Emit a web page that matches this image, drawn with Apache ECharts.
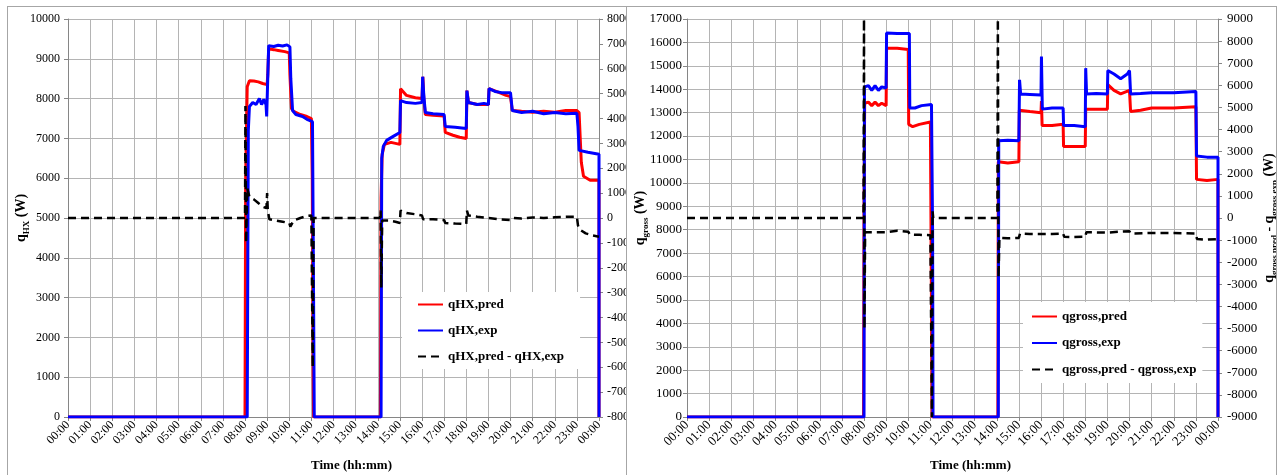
<!DOCTYPE html>
<html><head><meta charset="utf-8">
<script src="https://cdn.jsdelivr.net/npm/echarts@6/dist/echarts.min.js"></script>
<style>
html,body{margin:0;padding:0;background:#fff;width:1282px;height:475px;overflow:hidden;}
#c1{position:absolute;left:7px;top:6px;width:618px;height:480px;border:1px solid #a6a6a6;}
#c2{position:absolute;left:627px;top:6px;width:649px;height:480px;border:1px solid #a6a6a6;border-left:none;}
</style></head><body>
<div id="c1"></div><div id="c2"></div>
<script>
// ---- tick labels ----
const hourLabels = ['00:00','01:00','02:00','03:00','04:00','05:00','06:00','07:00','08:00','09:00','10:00','11:00','12:00',
  '13:00','14:00','15:00','16:00','17:00','18:00','19:00','20:00','21:00','22:00','23:00','00:00'];

// ---- left chart: qHX (W) ----  [hour, value]
const qhxPred = [[0,0],[8.0,0],[8.03,6000],[8.1,8300],[8.2,8450],[8.4,8440],[8.6,8420],[8.8,8380],[9.0,8350],[9.03,8600],[9.07,9250],
  [9.3,9230],[9.5,9210],[9.8,9180],[10.0,9150],[10.03,8600],[10.1,7750],[10.2,7680],[10.5,7600],[10.8,7550],[11.0,7500],[11.04,6000],
  [11.08,1000],[11.1,0],[14.12,0],[14.15,5500],[14.2,6600],[14.3,6850],[14.6,6900],[15.0,6850],[15.03,8250],[15.1,8200],[15.3,8080],
  [15.7,8020],[16.0,8000],[16.04,8550],[16.08,8000],[16.15,7600],[16.5,7580],[17.0,7560],[17.05,7150],[17.4,7080],[17.7,7030],[18.0,7000],
  [18.03,8200],[18.1,7900],[18.5,7850],[19.0,7850],[19.03,8250],[19.5,8150],[19.8,8080],[20.0,8050],[20.08,7700],[20.5,7680],[21,7660],
  [21.5,7680],[22,7660],[22.5,7700],[23.0,7700],[23.1,7650],[23.2,6400],[23.3,6050],[23.6,5950],[24,5950],[24,0]];
const qhxExp = [[0,0],[8.1,0],[8.15,7200],[8.2,7800],[8.35,7900],[8.5,7850],[8.65,8000],[8.75,7850],[8.85,7980],[8.95,7850],[8.98,7550],
  [9.02,7600],[9.07,9330],[9.3,9310],[9.5,9340],[9.7,9320],[9.9,9350],[10.03,9300],[10.07,8500],[10.15,7700],[10.3,7600],[10.6,7550],
  [10.8,7480],[11.05,7420],[11.1,3000],[11.13,0],[14.15,0],[14.18,6500],[14.25,6800],[14.4,6950],[14.7,7050],[15.0,7150],[15.03,7950],
  [15.3,7900],[15.7,7880],[16.0,7900],[16.03,8550],[16.08,8100],[16.15,7650],[16.5,7620],[17.0,7600],[17.05,7300],[17.5,7280],[18.0,7250],
  [18.03,8200],[18.1,7900],[18.5,7850],[18.8,7880],[19.0,7850],[19.03,8250],[19.3,8180],[19.6,8150],[20.0,8150],[20.02,8200],[20.08,7700],
  [20.5,7650],[21,7680],[21.5,7620],[22,7650],[22.5,7620],[23.0,7630],[23.05,7300],[23.1,6700],[23.5,6650],[24,6600],[24,0]];
const qhxDiff = [[0,0],[8.0,0],[8.02,4500],[8.05,-1000],[8.1,1200],[8.2,850],[8.4,750],[8.6,600],[8.8,450],[8.97,400],[9.0,1000],
  [9.03,300],[9.1,-50],[9.4,-100],[9.7,-150],[10.0,-200],[10.05,-350],[10.2,-100],[10.5,0],[10.8,80],[11.0,100],[11.06,-6000],[11.1,0],
  [14.1,0],[14.13,300],[14.16,-2800],[14.2,-100],[14.5,-100],[14.8,-150],[15.0,-200],[15.03,300],[15.3,200],[15.7,150],[16.0,100],
  [16.05,-50],[16.5,-50],[17.0,-80],[17.05,-200],[17.5,-220],[18.0,-240],[18.03,300],[18.1,100],[18.5,50],[19.0,0],[19.05,-30],
  [19.5,-50],[20.0,-80],[20.1,0],[20.5,-20],[21,20],[21.5,0],[22,30],[22.5,50],[23.0,50],[23.05,-300],[23.15,-480],[23.4,-620],
  [23.7,-700],[24,-750]];

// ---- right chart: qgross (W) ----
const qgPred = [[0,0],[7.98,0],[8.0,9000],[8.03,13400],[8.2,13450],[8.35,13300],[8.5,13450],[8.65,13300],[8.8,13400],[9.0,13300],
  [9.02,15750],[9.5,15750],[10.0,15700],[10.02,12500],[10.2,12400],[10.5,12500],[11.0,12600],[11.05,12600],[11.08,0],[14.05,0],
  [14.07,10900],[14.5,10850],[15.0,10900],[15.02,13100],[15.5,13050],[16.0,13000],[16.02,13500],[16.05,12450],[16.5,12450],[17.0,12500],
  [17.02,11550],[17.5,11550],[18.0,11550],[18.02,13150],[18.5,13150],[19.0,13150],[19.02,14200],[19.3,13950],[19.6,13800],[20.0,13950],
  [20.05,13050],[20.5,13100],[21.0,13200],[22.0,13200],[23.0,13250],[23.03,10150],[23.5,10100],[24,10150],[24,0]];
const qgExp = [[0,0],[8.0,0],[8.02,14100],[8.2,14150],[8.35,13950],[8.5,14150],[8.65,13950],[8.8,14100],[9.0,14050],[9.02,16400],
  [9.5,16380],[10.05,16380],[10.07,13200],[10.3,13200],[10.6,13300],[11.05,13350],[11.1,8000],[11.12,0],[14.07,0],[14.09,11800],
  [14.5,11820],[15.0,11800],[15.03,14400],[15.08,13800],[15.5,13780],[16.0,13750],[16.02,15400],[16.06,13150],[16.5,13200],[17.0,13200],
  [17.02,12450],[17.5,12450],[18.0,12400],[18.02,14900],[18.06,13800],[18.5,13820],[19.0,13800],[19.02,14800],[19.3,14650],[19.6,14450],
  [19.9,14650],[20.0,14800],[20.05,13800],[20.5,13820],[21.0,13850],[22.0,13850],[23.0,13900],[23.03,11150],[23.5,11100],[24,11100],[24,0]];
const qgDiff = [[0,0],[7.98,0],[8.0,9000],[8.02,-5000],[8.05,-650],[8.5,-650],[9.0,-650],[9.05,-600],[9.5,-580],[10.0,-620],[10.07,-750],
  [10.5,-760],[11.0,-780],[11.07,-9000],[11.1,300],[11.13,0],[14.03,0],[14.05,9000],[14.08,-2700],[14.12,-900],[14.5,-920],[15.0,-900],
  [15.05,-700],[15.5,-720],[16.0,-720],[16.05,-700],[16.5,-720],[17.0,-700],[17.05,-850],[17.5,-860],[18.0,-850],[18.05,-650],[18.5,-650],
  [19.0,-660],[19.05,-600],[19.5,-620],[20.0,-600],[20.05,-700],[21,-680],[22,-680],[23.0,-700],[23.05,-950],[23.5,-980],[24,-950]];

const leftNames = ['qHX,pred','qHX,exp','qHX,pred - qHX,exp'];
const rightNames = ['qgross,pred','qgross,exp','qgross,pred - qgross,exp'];

const F = '"Liberation Serif","Times New Roman",serif';
const GRID = '#b4b4b4', AX = '#868686';
const rich = {
  a:{fontSize:14,fontWeight:'bold',fontFamily:F,color:'#000',lineHeight:14,padding:[0,0,3,0],verticalAlign:'bottom'},
  b:{fontSize:9,fontWeight:'bold',fontFamily:F,color:'#000',lineHeight:9,verticalAlign:'bottom'}
};
const NOFILL = 'rgba(0,0,0,0)';

function build(c){
  const lbl = (m)=>({fontFamily:F,fontSize:c.fs,color:'#000',margin:m,formatter:v=>String(v)});
  return {
    animation:false,
    grid:{left:60,top:12,width:531,height:398,containLabel:false,outerBoundsMode:'none'},
    xAxis:{type:'value',min:0,max:24,interval:1,
      axisLine:{show:true,onZero:false,lineStyle:{color:AX}},
      axisTick:{show:true,length:4,lineStyle:{color:AX}},
      axisLabel:{rotate:45,margin:6,fontFamily:F,fontSize:c.fs,color:'#000',formatter:v=>hourLabels[Math.round(v)]},
      splitLine:{show:true,lineStyle:{color:GRID}},
      name:'Time (hh:mm)',nameLocation:'middle',nameGap:42,nameMoveOverlap:false,
      nameTextStyle:{fontFamily:F,fontWeight:'bold',fontSize:13,color:'#000',padding:[0,0,0,36]}},
    yAxis:[
      {type:'value',min:0,max:c.lmax,interval:1000,position:'left',
        axisLine:{show:true,lineStyle:{color:AX}},axisTick:{show:true,length:4,lineStyle:{color:AX}},
        axisLabel:lbl(c.lm),splitLine:{show:true,lineStyle:{color:GRID}},
        name:c.lname,nameLocation:'middle',nameGap:34,nameMoveOverlap:false,
        nameTextStyle:{backgroundColor:'#fff',padding:[3,4],rich:rich}},
      {type:'value',min:-c.rmax,max:c.rmax,interval:1000,position:'right',
        axisLine:{show:true,lineStyle:{color:AX}},axisTick:{show:true,length:4,lineStyle:{color:AX}},
        axisLabel:lbl(c.rm),splitLine:{show:false},
        name:c.rname,nameLocation:'middle',nameGap:c.rgap,nameRotate:90,nameMoveOverlap:false,
        nameTextStyle:{padding:[0,0,0,0],rich:rich}}
    ],
    legend:{orient:'vertical',left:c.lg.left,top:c.lg.top,itemWidth:25,itemHeight:14,itemGap:c.lg.gap,
      backgroundColor:'#fff',padding:c.lg.pad,
      itemStyle:{color:NOFILL,borderWidth:0,borderColor:NOFILL},
      textStyle:{fontFamily:F,fontWeight:'bold',fontSize:13,color:'#000'},data:c.names},
    series:[
      {name:c.names[0],type:'line',symbol:'none',yAxisIndex:0,data:c.s[0],lineStyle:{color:'#ff0000',width:3},itemStyle:{color:NOFILL}},
      {name:c.names[1],type:'line',symbol:'none',yAxisIndex:0,data:c.s[1],lineStyle:{color:'#0000ff',width:3},itemStyle:{color:NOFILL}},
      {name:c.names[2],type:'line',symbol:'none',yAxisIndex:1,data:c.s[2],lineStyle:{color:'#000',width:2.5,type:[8,5]},itemStyle:{color:NOFILL}}
    ]
  };
}

const ch1 = echarts.init(document.getElementById('c1'),null,{renderer:'canvas'});
ch1.setOption(build({fs:12,lm:8,rm:8,lmax:10000,rmax:8000,rgap:40,
  lname:'{a|q}{b|HX}{a| (W)}',rname:'{a|q}{b|HX,pred}{a| - q}{b|HX,exp}{a| (W)}',
  names:leftNames,s:[qhxPred,qhxExp,qhxDiff],
  lg:{left:394,top:285,gap:13,pad:[6,16,6,15]}}));

const ch2 = echarts.init(document.getElementById('c2'),null,{renderer:'canvas'});
ch2.setOption(build({fs:13,lm:5,rm:9,lmax:17000,rmax:9000,rgap:47,
  lname:'{a|q}{b|gross}{a| (W)}',rname:'{a|q}{b|gross,pred}{a| - q}{b|gross,exp}{a| (W)}',
  names:rightNames,s:[qgPred,qgExp,qgDiff],
  lg:{left:396,top:295,gap:13.5,pad:[8,6,7,8]}}));
</script></body></html>
